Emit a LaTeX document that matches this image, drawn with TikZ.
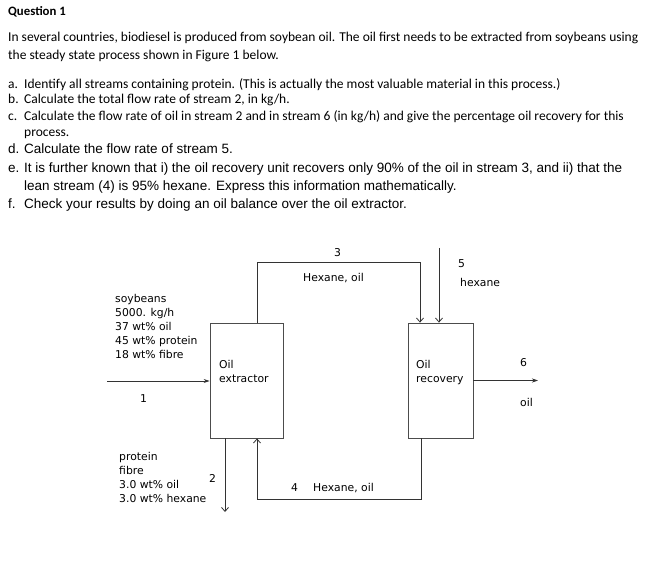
\documentclass[tikz,border=0pt]{standalone}
\usepackage{fontspec}
\setmainfont{Carlito}
\newfontfamily\arialfont{Liberation Sans}
\newfontfamily\figfont{DejaVu Sans}
\usetikzlibrary{arrows.meta}

\begin{document}
\begin{tikzpicture}[x=1pt, y=-1pt,
  unit/.style={draw=black!70, line width=0.8pt, minimum width=73pt, minimum height=115pt, inner sep=0pt},
  stream/.style={draw=black!80, line width=0.8pt},
  vflow/.style={stream, -{Straight Barb[length=4pt, width=7pt]}},
  hflow/.style={stream, -{Stealth[length=6pt, width=4pt]}},
  qtext/.style={anchor=base west, inner sep=0pt, font=\fontsize{13.5}{16}\selectfont},
  atext/.style={anchor=base west, inner sep=0pt, font=\arialfont\fontsize{13.5}{16}\selectfont},
  lbl/.style={anchor=base west, inner sep=0pt, align=left, font=\figfont\fontsize{10.8}{14}\selectfont},
]
\useasboundingbox (0,0) rectangle (658,585);
% question text
\node[qtext, font=\bfseries\fontsize{12.8}{14}\selectfont] (title) at (8,16) {Question 1};
\node[qtext] (intro1) at (8,42) {In several countries, biodiesel is produced from soybean oil. The oil first needs to be extracted from soybeans using};
\node[qtext] (intro2) at (8,60) {the steady state process shown in Figure 1 below.};
\node[qtext] (ka) at (8,89) {a.};
\node[qtext] (ta) at (24,89) {Identify all streams containing protein. (This is actually the most valuable material in this process.)};
\node[qtext] (kb) at (8,104) {b.};
\node[qtext] (tb) at (24,104) {Calculate the total flow rate of stream 2, in kg/h.};
\node[qtext] (kc) at (8,121) {c.};
\node[qtext] (tc) at (24,121) {Calculate the flow rate of oil in stream 2 and in stream 6 (in kg/h) and give the percentage oil recovery for this};
\node[qtext] (tc2) at (24,137) {process.};
\node[atext] (kd) at (8,154) {d.};
\node[atext] (td) at (24,154) {Calculate the flow rate of stream 5.};
\node[atext] (ke) at (8,173) {e.};
\node[atext] (te) at (24,173) {It is further known that i) the oil recovery unit recovers only 90\% of the oil in stream 3, and ii) that the};
\node[atext] (te2) at (24,191) {lean stream (4) is 95\% hexane. Express this information mathematically.};
\node[atext] (kf) at (8,209) {f.};
\node[atext] (tf) at (24,209) {Check your results by doing an oil balance over the oil extractor.};

% units
\node[unit] (ext) at (246.5,380.5) {};
\node[unit, minimum width=65pt] (rec) at (440.5,380.5) {};
\node[lbl] (extname) at (219,382) {Oil\\extractor};
\node[lbl] (recname) at (416,382) {Oil\\recovery};

% stream ends
\coordinate (s1) at (107,381);
\coordinate (s2) at (225,512);
\coordinate (s3in) at (257,323);
\coordinate (s3top) at (420,262);
\coordinate (s4) at (421,499);
\coordinate (s5) at (439,248);
\coordinate (s6) at (538,380.5);

% streams
\draw[hflow] (s1) -- (s1 -| ext.west);
\draw[vflow] (ext.south -| s2) -- (s2);
\draw[vflow] (s3in) |- (s3top) -- (s3top |- rec.north);
\draw[vflow] (s4 |- rec.south) -- (s4) -| (s3in |- ext.south);
\draw[vflow] (s5) -- (s5 |- rec.north);
\draw[hflow] (rec.east) -- (s6);

% stream labels
\node[lbl] (feed) at (115,358) {soybeans\\5000. kg/h\\37 wt\% oil\\45 wt\% protein\\18 wt\% fibre};
\node[lbl] (n1) at (140,402) {1};
\node[lbl] (n2) at (209,482) {2};
\node[lbl] (solids) at (119,502) {protein\\fibre\\3.0 wt\% oil\\3.0 wt\% hexane};
\node[lbl] (n3) at (334,257) {3};
\node[lbl] (c3) at (303,281) {Hexane, oil};
\node[lbl] (n4) at (291,491) {4};
\node[lbl] (c4) at (313,491) {Hexane, oil};
\node[lbl] (n5) at (458,268) {5};
\node[lbl] (c5) at (460,287) {hexane};
\node[lbl] (n6) at (520,366) {6};
\node[lbl] (c6) at (520,406) {oil};
\end{tikzpicture}
\end{document}
